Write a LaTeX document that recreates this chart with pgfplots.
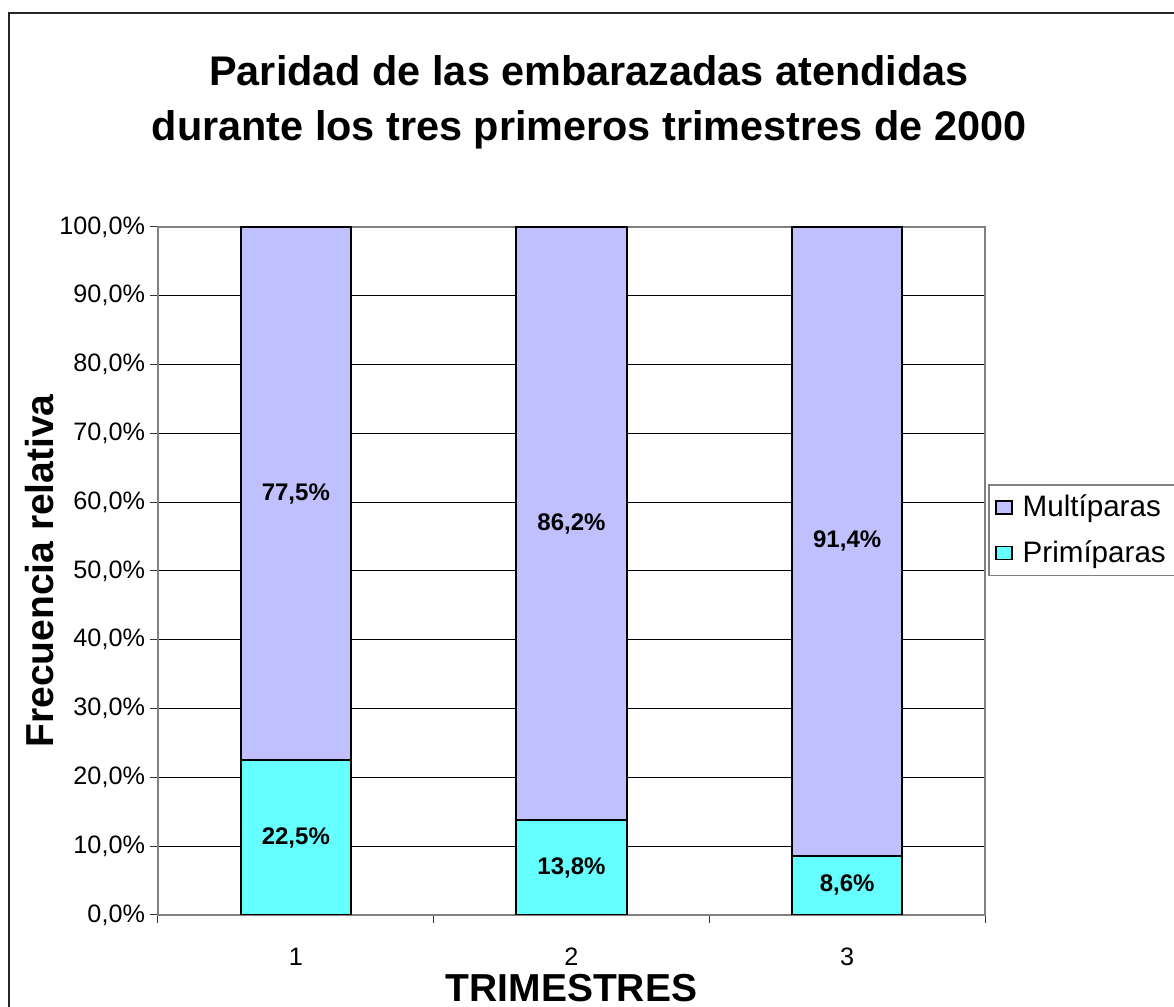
\documentclass[border=0pt]{standalone}
\usepackage{pgfplots}
\pgfplotsset{compat=1.18}
\usepackage{fontspec}
\setmainfont{Liberation Sans}
\definecolor{multi}{HTML}{C0C0FF}
\definecolor{primi}{HTML}{66FFFF}
\definecolor{axgray}{HTML}{808080}

\begin{document}
\begin{tikzpicture}
\useasboundingbox (0,0) rectangle (587pt,503.5pt);
% outer frame (left and top edges show in the picture)
\draw[line width=1pt, black!85] (4.5pt,-5pt) -- (4.5pt,497pt) -- (600pt,497pt);
\node[align=center, font=\fontsize{20.7}{27.5}\selectfont\bfseries] at (294.5pt,452.5pt)
  {Paridad de las embarazadas atendidas\\durante los tres primeros trimestres de 2000};

\begin{axis}[
  at={(79pt,46pt)}, anchor=south west,
  scale only axis, width=413.5pt, height=344pt,
  ybar stacked, bar width=0.4,
  xmin=0.5, xmax=3.5, ymin=0, ymax=100,
  xtick={1,2,3}, xticklabels={1,2,3},
  minor xtick={0.5,1.5,2.5,3.5},
  ytick={0,10,...,100},
  yticklabels={{0,0\%},{10,0\%},{20,0\%},{30,0\%},{40,0\%},{50,0\%},{60,0\%},{70,0\%},{80,0\%},{90,0\%},{100,0\%}},
  xtick pos=bottom, ytick pos=left, tick align=outside,
  major tick length=4pt, minor tick length=4pt,
  major x tick style={draw=none},
  tick style={black!80, line width=0.5pt},
  ticklabel style={font=\fontsize{12.6}{14}\selectfont},
  xticklabel style={yshift=-11.5pt, inner sep=1pt},
  yticklabel style={xshift=1pt},
  axis line style={axgray, line width=1pt},
  ymajorgrids, major grid style={black, line width=0.5pt},
  xlabel={TRIMESTRES}, ylabel={Frecuencia relativa},
  every axis x label/.style={at={(axis description cs:0.5,-0.1055)}, anchor=center,
    inner sep=0pt, font=\fontsize{19.5}{22}\selectfont\bfseries},
  every axis y label/.style={at={(axis description cs:-0.1427,0.5)}, rotate=90, anchor=center,
    font=\fontsize{19.5}{22}\selectfont\bfseries},
  legend style={at={(axis description cs:1.0036,0.6265)}, anchor=north west,
    draw=axgray, line width=0.8pt, font=\fontsize{14.8}{17}\selectfont,
    inner xsep=3pt, inner ysep=3pt, row sep=6.5pt},
  legend cell align=left, reverse legend,
  legend image code/.code={\draw[#1, line width=0.9pt] (0pt,-3.25pt) rectangle (8pt,3.25pt);
    \path (11pt,0pt);},
]
\addplot[fill=primi, draw=black, line width=1pt] coordinates {(1,22.5) (2,13.8) (3,8.6)};
\addlegendentry{Primíparas}
\addplot[fill=multi, draw=black, line width=1pt] coordinates {(1,77.5) (2,86.2) (3,91.4)};
\addlegendentry{Multíparas}
\end{axis}

% value labels, centred in each segment
\begin{axis}[
  at={(79pt,46pt)}, anchor=south west,
  scale only axis, width=413.5pt, height=344pt,
  xmin=0.5, xmax=3.5, ymin=0, ymax=100, hide axis,
]
\addplot[only marks, mark=none, nodes near coords, point meta=explicit symbolic,
  every node near coord/.append style={anchor=center, font=\fontsize{12}{14}\selectfont\bfseries}]
  coordinates {(1,11.25)[22,5\%] (2,6.9)[13,8\%] (3,4.3)[8,6\%]
               (1,61.25)[77,5\%] (2,56.9)[86,2\%] (3,54.3)[91,4\%]};
\end{axis}
\end{tikzpicture}
\end{document}
